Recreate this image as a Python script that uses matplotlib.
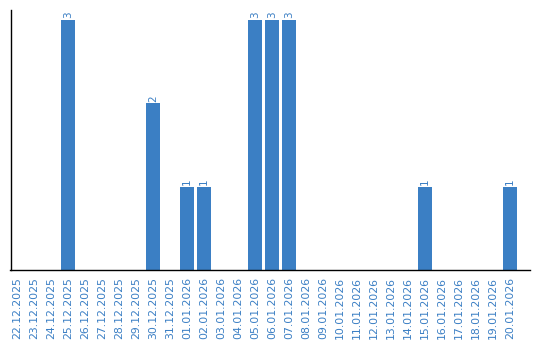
import matplotlib
matplotlib.use("Agg")
import matplotlib.pyplot as plt
import datetime as dt

start = dt.date(2025, 12, 22)
dates = [(start + dt.timedelta(days=i)).strftime("%d.%m.%Y") for i in range(30)]
counts_map = {"25.12.2025": 3, "30.12.2025": 2, "01.01.2026": 1, "02.01.2026": 1,
              "05.01.2026": 3, "06.01.2026": 3, "07.01.2026": 3,
              "15.01.2026": 1, "20.01.2026": 1}
values = [counts_map.get(d, 0) for d in dates]

W, H = 540, 340
fig = plt.figure(figsize=(W / 100, H / 100), dpi=100)
ax = fig.add_axes([10.5 / W, (H - 270) / H, (530 - 10.5) / W, 260 / H])

color = "#3b7fc4"
x = list(range(len(dates)))
bars = ax.bar(x, values, width=14 / 17, color=color)
for xi, v in zip(x, values):
    if v > 0:
        ax.text(xi, v + 0.02, str(v), rotation=90, ha="center", va="bottom",
                color=color, fontsize=7.5)

ax.set_xlim(-0.38, 30.18)
ax.set_ylim(0, 3.12)
ax.set_xticks(x)
ax.set_xticklabels(dates, rotation=90, color=color, fontsize=7.8)
ax.tick_params(axis="x", length=0, pad=5)
ax.set_yticks([])
for s in ["top", "right"]:
    ax.spines[s].set_visible(False)
ax.spines["left"].set_color("black")
ax.spines["bottom"].set_color("black")
ax.spines["left"].set_linewidth(1)
ax.spines["bottom"].set_linewidth(1)

fig.savefig("out.png", dpi=100, facecolor="white")
